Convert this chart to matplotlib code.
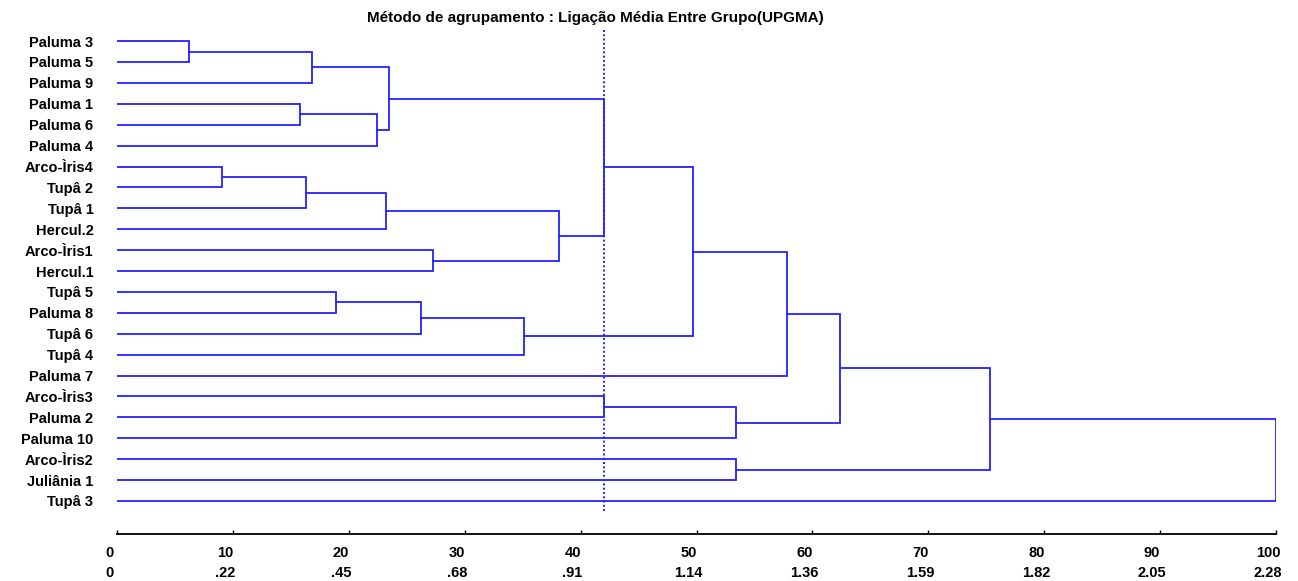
# -*- coding: utf-8 -*-
import matplotlib
matplotlib.use('Agg')
import matplotlib.pyplot as plt

plt.rcParams['font.family'] = ['Liberation Sans', 'DejaVu Sans']
plt.rcParams['font.weight'] = 'bold'

# folhas na ordem do dendrograma (de cima para baixo)
leaves = ['Paluma 3', 'Paluma 5', 'Paluma 9', 'Paluma 1', 'Paluma 6', 'Paluma 4',
          'Arco-Ìris4', 'Tupâ 2', 'Tupâ 1', 'Hercul.2', 'Arco-Ìris1', 'Hercul.1',
          'Tupâ 5', 'Paluma 8', 'Tupâ 6', 'Tupâ 4', 'Paluma 7', 'Arco-Ìris3',
          'Paluma 2', 'Paluma 10', 'Arco-Ìris2', 'Juliânia 1', 'Tupâ 3']

# fusões: (filho esquerdo, filho direito, distância)  -- inteiro = folha, 'mN' = fusão N
merges = [
    (0, 1, 6.2),
    ('m0', 2, 16.8),
    (3, 4, 15.8),
    ('m2', 5, 22.4),
    ('m1', 'm3', 23.5),
    (6, 7, 9.1),
    ('m5', 8, 16.3),
    ('m6', 9, 23.2),
    (10, 11, 27.3),
    ('m7', 'm8', 38.1),
    ('m4', 'm9', 42.0),
    (12, 13, 18.9),
    ('m11', 14, 26.2),
    ('m12', 15, 35.1),
    ('m10', 'm13', 49.7),
    ('m14', 16, 57.8),
    (17, 18, 42.0),
    ('m16', 19, 53.4),
    ('m15', 'm17', 62.4),
    (20, 21, 53.4),
    ('m18', 'm19', 75.3),
    ('m20', 22, 100.0),
]

cut_level = 42.0
ticks_pct = [0, 10, 20, 30, 40, 50, 60, 70, 80, 90, 100]
ticks_dist = ['0', '.22', '.45', '.68', '.91', '1.14', '1.36', '1.59', '1.82', '2.05', '2.28']

title = 'Método de agrupamento : Ligação Média Entre Grupo(UPGMA)'
line_color = '#2222ff'

fig = plt.figure(figsize=(12.98, 5.81), dpi=100)
ax = fig.add_axes([117 / 1298, 1 - 534 / 581, (1276 - 117) / 1298, (534 - 30) / 581])

pos = {}
for i in range(len(leaves)):
    pos[i] = (0.0, float(i))

for k, (a, b, h) in enumerate(merges):
    xa, ya = pos[a]
    xb, yb = pos[b]
    ax.plot([xa, h, h, xb], [ya, ya, yb, yb], color=line_color, lw=1.3,
            solid_joinstyle='miter')
    pos['m%d' % k] = (h, (ya + yb) / 2)

ax.plot([cut_level, cut_level], [-0.53, 22.57], color=line_color, lw=1.4,
        linestyle=(0, (1, 1.2)))

ax.set_xlim(0, 100)
ax.set_ylim(23.58, -0.53)

for s in ['top', 'right', 'left']:
    ax.spines[s].set_visible(False)
ax.spines['bottom'].set_linewidth(1.3)

ax.set_yticks(range(len(leaves)))
ax.set_yticklabels(leaves, fontsize=10.5, fontweight='bold')
ax.tick_params(axis='y', length=0, pad=17)

ax.set_xticks(ticks_pct)
ax.set_xticklabels([])
ax.tick_params(axis='x', direction='in', length=3, width=1)

for v, d in zip(ticks_pct, ticks_dist):
    ax.annotate(str(v), xy=(v, 0), xycoords=('data', 'axes fraction'),
                xytext=(-8, -19), textcoords='offset pixels',
                ha='center', va='center', fontsize=10.5, fontweight='bold')
    ax.annotate(d, xy=(v, 0), xycoords=('data', 'axes fraction'),
                xytext=(-8, -39), textcoords='offset pixels',
                ha='center', va='center', fontsize=10.5, fontweight='bold')

fig.text(595.5 / 1298, 1 - 18 / 581, title, ha='center', va='center',
         fontsize=11, fontweight='bold')

fig.savefig('out.png', dpi=100)
